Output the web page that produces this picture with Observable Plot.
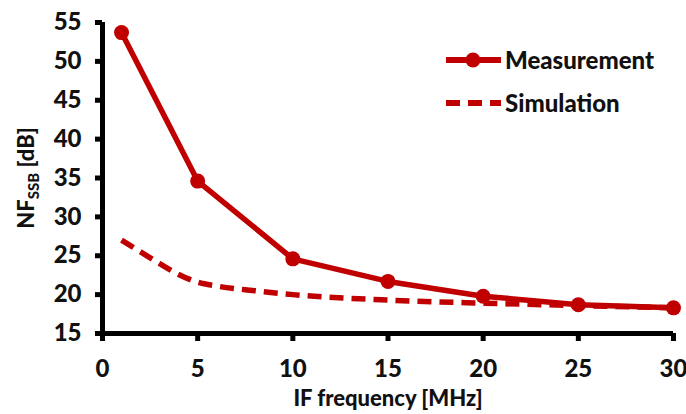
<!DOCTYPE html>
<html>
<head>
<meta charset="utf-8">
<script src="https://cdn.jsdelivr.net/npm/d3@7"></script>
<script src="https://cdn.jsdelivr.net/npm/@observablehq/plot@0.6"></script>
<style>
  html, body { margin: 0; padding: 0; background: #fff; }
  svg { font-family: Lato, "Open Sans", sans-serif; }
</style>
</head>
<body>
<div id="chart"></div>
<script>
const measFreq = [1, 5, 10, 15, 20, 25, 30];
const measNF = [53.7, 34.6, 24.6, 21.7, 19.8, 18.7, 18.3];
const simFreq = [1, 2, 3, 4, 5, 6, 8, 10, 15, 20, 25, 30];
const simNF = [27.0, 25.5, 24.0, 22.6, 21.6, 21.1, 20.5, 20.0, 19.3, 18.9, 18.6, 18.3];
const xTicks = [0, 5, 10, 15, 20, 25, 30];
const yTicks = [15, 20, 25, 30, 35, 40, 45, 50, 55];
const seriesNames = ["Measurement", "Simulation"];

const red = "#C00000";
const ink = "#111111";
const meas = measFreq.map((f, i) => ({f, v: measNF[i]}));
const sim = simFreq.map((f, i) => ({f, v: simNF[i]}));

const plot = Plot.plot({
  width: 686,
  height: 414,
  marginLeft: 102,
  marginRight: 13,
  marginTop: 22,
  marginBottom: 81,
  style: {fontFamily: "Lato, 'Open Sans', sans-serif", fontSize: "24px", fontWeight: "900", color: ink},
  x: {domain: [0, 30]},
  y: {domain: [15, 55]},
  marks: [
    Plot.axisX({ticks: xTicks, tickSize: 8, tickPadding: 18, stroke: "black", strokeWidth: 5, label: null, fontSize: 24}),
    Plot.axisY({ticks: yTicks, tickSize: 7, tickPadding: 14, stroke: "black", strokeWidth: 5, label: null, fontSize: 24}),
    Plot.ruleX([0], {stroke: "black", strokeWidth: 5}),
    Plot.ruleY([15], {stroke: "black", strokeWidth: 5}),
    Plot.line(sim, {x: "f", y: "v", stroke: red, strokeWidth: 5.5, strokeDasharray: "14,8", strokeLinecap: "butt", curve: "monotone-x"}),
    Plot.line(meas, {x: "f", y: "v", stroke: red, strokeWidth: 5.5}),
    Plot.dot(meas, {x: "f", y: "v", fill: red, r: 7.5})
  ]
});
document.getElementById("chart").appendChild(plot);

const svg = d3.select(plot);
// enforce heavy axis strokes directly on the elements
svg.selectAll("g[aria-label='rule'] line").attr("stroke", "black").attr("stroke-width", 5);
svg.selectAll("g[aria-label='x-axis tick'] path, g[aria-label='y-axis tick'] path")
  .attr("stroke", "black").attr("stroke-width", 5);

// x axis title
svg.append("text")
  .attr("x", 388).attr("y", 406)
  .attr("text-anchor", "middle")
  .attr("font-size", 22).attr("font-weight", "900").attr("fill", ink)
  .text("IF frequency [MHz]");
// y axis title with subscript
const yt = svg.append("text")
  .attr("transform", "translate(34,178) rotate(-90)")
  .attr("text-anchor", "middle")
  .attr("font-size", 22).attr("font-weight", "900").attr("fill", ink);
yt.append("tspan").text("NF");
yt.append("tspan").attr("font-size", 15).attr("dy", 5).text("SSB");
yt.append("tspan").attr("dy", -5).text(" [dB]");

// legend
const lg = svg.append("g").attr("text-anchor", "start");
lg.append("line").attr("x1", 446).attr("x2", 501).attr("y1", 60).attr("y2", 60)
  .attr("stroke", red).attr("stroke-width", 6);
lg.append("circle").attr("cx", 473).attr("cy", 60).attr("r", 7.5).attr("fill", red);
lg.append("text").attr("x", 505).attr("y", 60).attr("dy", "0.36em")
  .attr("font-size", 24).attr("font-weight", "900").attr("fill", ink).text(seriesNames[0]);
lg.append("line").attr("x1", 446).attr("x2", 501).attr("y1", 103).attr("y2", 103)
  .attr("stroke", red).attr("stroke-width", 6).attr("stroke-dasharray", "14,8");
lg.append("text").attr("x", 505).attr("y", 103).attr("dy", "0.36em")
  .attr("font-size", 24).attr("font-weight", "900").attr("fill", ink).text(seriesNames[1]);
</script>
</body>
</html>
